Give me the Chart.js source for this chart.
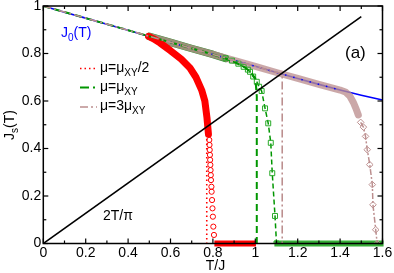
<!DOCTYPE html>
<html><head><meta charset="utf-8">
<script src="https://cdn.jsdelivr.net/npm/chart.js@4.4.1/dist/chart.umd.min.js"></script>
<style>html,body{margin:0;padding:0;background:#fff}canvas{display:block}</style>
</head><body>
<canvas id="c" width="394" height="273"></canvas>
<script>
// ---- data ----
const tJ0 = [0,0.1,0.2,0.3,0.4,0.5,0.6,0.7,0.8,0.9,1.0,1.1,1.2,1.3,1.4,1.5,1.6];
const J0  = [1.0,0.974,0.949,0.923,0.898,0.872,0.847,0.821,0.796,0.771,0.746,0.720,0.695,0.670,0.646,0.624,0.604];

const tLin = [0,1.5];
const jLin = [0,0.955];

// mu = muXY/2 (red)
const tRedBand = [0.497,0.52,0.55,0.6,0.65,0.692,0.72,0.747,0.762,0.772,0.779];
const jRedBand = [0.872,0.862,0.845,0.812,0.777,0.739,0.70,0.646,0.60,0.53,0.46];
const tRedCirc = [0.783,0.784,0.785,0.786,0.787,0.788,0.789,0.790,0.791,0.793,0.794,0.796,0.798,0.800,0.802,0.805];
const jRedCirc = [0.436,0.415,0.394,0.373,0.352,0.331,0.309,0.288,0.267,0.239,0.218,0.183,0.148,0.113,0.071,0.036];
const tRedDot  = [0.5,0.6,0.692,0.747,0.765,0.771,0.771];
const jRedDot  = [0.873,0.812,0.739,0.646,0.57,0.5,0];
const tRedZero = [0.807,1.003];
const jRedZero = [0,0];

// mu = muXY (green)
const tGrnLine = [0,0.2,0.4,0.6,0.8,0.85,0.9,0.95,0.98,1.0,1.007,1.007];
const jGrnLine = [1,0.949,0.898,0.847,0.796,0.782,0.765,0.742,0.72,0.695,0.62,0];
const tGrnBand = [0.5,0.6,0.7,0.8,0.86];
const jGrnBand = [0.872,0.847,0.821,0.796,0.779];
const tGrnSq = [0.86,0.89,0.92,0.945,0.965,0.975,0.99,1.007,1.018,1.03,1.046,1.061,1.073,1.08,1.093,1.1];
const jGrnSq = [0.78,0.77,0.757,0.744,0.732,0.723,0.703,0.681,0.66,0.642,0.569,0.506,0.424,0.296,0.116,0.0];
const tGrnZero = [1.09,1.605];
const jGrnZero = [0,0];

// mu = 3 muXY (brown)
const tBrnLine = [0,0.2,0.4,0.6,0.8,1.0,1.127,1.127];
const jBrnLine = [1,0.949,0.898,0.847,0.796,0.746,0.714,0];
const tBrnBand = [0.5,0.6,0.7,0.8,0.9,1.0,1.1,1.2,1.3,1.4,1.425,1.445,1.462,1.475,1.486];
const jBrnBand = [0.872,0.847,0.821,0.796,0.771,0.746,0.720,0.695,0.670,0.646,0.638,0.622,0.595,0.568,0.541];
const tBrnDia = [1.497,1.51,1.52,1.528,1.54,1.552,1.555,1.568,1.575];
const jBrnDia = [0.51,0.49,0.451,0.395,0.332,0.248,0.163,0.058,0];

const xTicks = [0,0.2,0.4,0.6,0.8,1.0,1.2,1.4,1.6];
const yTicks = [0,0.2,0.4,0.6,0.8,1.0];

// ---- helpers ----
const pts = (xs, ys) => xs.map((x,i)=>({x, y: ys[i]}));
const RED='#ff0000', GRN='rgb(0,150,0)', BRN='rgb(188,143,143)', BLUE='#0000ff';
const FONT='"Liberation Sans", Arial, Helvetica, sans-serif';

function line(d, color, width, order, extra){
  return Object.assign({data:d, showLine:true, borderColor:color, backgroundColor:color,
    borderWidth:width, pointRadius:0, order, borderCapStyle:'butt', borderJoinStyle:'round'}, extra||{});
}

const datasets = [
  line(pts(tJ0,J0), BLUE, 1.6, 20),
  line(pts(tGrnBand,jGrnBand), 'rgb(40,140,40)', 7.5, 19, {borderCapStyle:'round'}),
  line(pts(tBrnBand,jBrnBand), 'rgba(188,143,143,0.78)', 7, 18, {borderCapStyle:'round'}),
  line(pts(tJ0,J0).filter(p=>p.x>=0.6&&p.x<=1.4), BLUE, 1.5, 17, {borderDash:[1.5,7]}),
  line(pts(tRedBand,jRedBand), RED, 7, 16, {borderCapStyle:'round'}),
  line(pts(tRedZero,jRedZero), RED, 6, 15, {clip:false}),
  line(pts(tGrnZero,jGrnZero), 'rgba(20,160,20,0.85)', 6, 15, {clip:false}),
  {data:pts(tRedCirc,jRedCirc), showLine:false, pointStyle:'circle', pointRadius:2.6,
    pointBorderColor:RED, pointBackgroundColor:'rgba(0,0,0,0)', pointBorderWidth:1, order:12},
  line(pts(tRedDot,jRedDot), RED, 1.6, 11, {borderDash:[1.5,3]}),
  line(pts(tGrnSq,jGrnSq), GRN, 1.5, 10, {borderDash:[5,3], pointRadius:3.5, pointStyle:'rect',
    pointBorderColor:'rgb(40,170,40)', pointBackgroundColor:'rgba(0,0,0,0)', pointBorderWidth:1}),
  line(pts(tGrnLine,jGrnLine), GRN, 2, 9, {borderDash:[7,4]}),
  line(pts(tBrnDia,jBrnDia), BRN, 1.5, 8, {borderDash:[6,2,2,2], pointRadius:3.3, pointStyle:'rectRot',
    pointBorderColor:BRN, pointBackgroundColor:'rgba(0,0,0,0)', pointBorderWidth:1}),
  line(pts(tBrnLine,jBrnLine), BRN, 1.6, 7, {borderDash:[8,3,2,3]}),
  line(pts(tLin,jLin), '#000', 1.6, 1),
];

function rich(ctx, parts, x, y, align){
  let w=0;
  for (const [t,s] of parts){ ctx.font=(s?'10px ':'14px ')+FONT; w+=ctx.measureText(t).width; }
  let cx = align==='center' ? x-w/2 : x;
  for (const [t,s] of parts){ ctx.font=(s?'10px ':'14px ')+FONT; ctx.fillText(t, cx, y+(s?4:0)); cx+=ctx.measureText(t).width; }
}

const deco = {
  id:'deco',
  afterDatasetsDraw(chart){
    const {ctx, chartArea:a, scales:{x,y}} = chart;
    ctx.save();
    ctx.strokeStyle='#000'; ctx.lineWidth=1.5;
    ctx.strokeRect(a.left, a.top, a.right-a.left, a.bottom-a.top);
    ctx.lineWidth=1.2;
    const seg=(x1,y1,x2,y2)=>{ctx.beginPath();ctx.moveTo(x1,y1);ctx.lineTo(x2,y2);ctx.stroke();};
    for (let i=0;i<=16;i++){
      const px=x.getPixelForValue(i/10), L=(i%2===0)?5:3;
      seg(px,a.bottom,px,a.bottom-L); seg(px,a.top,px,a.top+L);
    }
    for (let i=0;i<=10;i++){
      const py=y.getPixelForValue(i/10), L=(i%2===0)?5:3;
      seg(a.left,py,a.left+L,py); seg(a.right,py,a.right-L,py);
    }
    ctx.textBaseline='alphabetic'; ctx.textAlign='left';
    // J0(T)
    ctx.fillStyle=BLUE;
    rich(ctx, [['J',0],['0',1],['(T)',0]], 61, 37);
    // legend
    ctx.fillStyle='#000';
    rich(ctx, [['\u03bc=\u03bc',0],['XY',1],['/2',0]], 100, 72);
    rich(ctx, [['\u03bc=\u03bc',0],['XY',1]], 100, 91);
    rich(ctx, [['\u03bc=3\u03bc',0],['XY',1]], 100, 110);
    ctx.lineWidth=1.6;
    ctx.strokeStyle=RED; ctx.setLineDash([1.5,3]); seg(80,68.5,97,68.5);
    ctx.strokeStyle=GRN; ctx.lineWidth=2; ctx.setLineDash([9,4,2,4]); seg(80,87.5,97,87.5);
    ctx.strokeStyle=BRN; ctx.lineWidth=1.6; ctx.setLineDash([8,3,2,3]); seg(80,107,97,107);
    ctx.setLineDash([]);
    // (a)
    ctx.fillStyle='#000';
    ctx.font='17px '+FONT; ctx.fillText('(a)', 345, 58);
    ctx.font='14px '+FONT; ctx.fillText('2T/\u03c0', 103, 219.5);
    ctx.textAlign='center'; ctx.fillText('T/J', 215.5, 269.5);
    ctx.textAlign='left';
    // y title
    ctx.translate(14, 125); ctx.rotate(-Math.PI/2);
    rich(ctx, [['J',0],['s',1],['(T)',0]], 0, 0, 'center');
    ctx.restore();
  }
};

new Chart(document.getElementById('c'), {
  type:'scatter',
  data:{datasets},
  options:{
    responsive:false, animation:false, events:[],
    layout:{padding:{left:0,right:11.5,top:6,bottom:0}},
    plugins:{legend:{display:false}, tooltip:{enabled:false}},
    scales:{
      x:{type:'linear', min:0, max:1.6,
        afterBuildTicks:s=>{s.ticks=xTicks.map(v=>({value:v}));},
        ticks:{font:{family:FONT,size:14}, color:'#000', padding:1, maxRotation:0, autoSkip:false,
          callback:v=>String(Number(v.toFixed(1)))},
        grid:{display:false, drawTicks:false}, border:{display:false},
        afterFit:s=>{s.height=29.5; s.paddingLeft=0; s.paddingRight=0;}},
      y:{type:'linear', min:0, max:1,
        afterBuildTicks:s=>{s.ticks=yTicks.map(v=>({value:v}));},
        ticks:{font:{family:FONT,size:14}, color:'#000', padding:2,
          callback:v=>String(Number(v.toFixed(1)))},
        grid:{display:false, drawTicks:false}, border:{display:false},
        afterFit:s=>{s.width=43.3; s.paddingTop=0; s.paddingBottom=0;}}
    }
  },
  plugins:[deco]
});
</script>
</body></html>
